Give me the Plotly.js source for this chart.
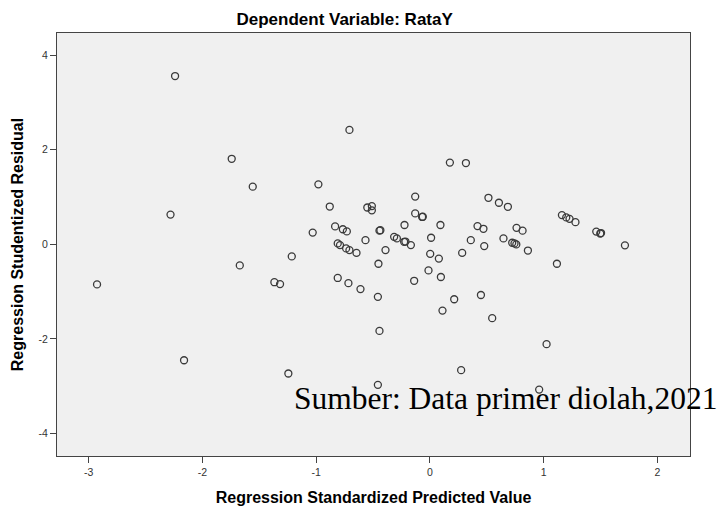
<!DOCTYPE html>
<html>
<head>
<meta charset="utf-8">
<script src="https://cdn.plot.ly/plotly-3.0.1.min.js"></script>
<style>html,body{margin:0;padding:0;background:#fff;}#chart{width:718px;height:506px;}</style>
</head>
<body>
<div id="chart"></div>
<script>
// Regression Standardized Predicted Value (x) and Regression Studentized Residual (y)
const predicted = [
  -2.926, -2.28, -2.24, -2.161, -1.742, -1.671, -1.557, -1.367, -1.317, -1.244,
  -1.214, -1.03, -0.98, -0.88, -0.833, -0.81, -0.79, -0.81, -0.765, -0.73,
  -0.736, -0.707, -0.716, -0.707, -0.645, -0.61, -0.566, -0.55, -0.51, -0.51,
  -0.452, -0.457, -0.443, -0.457, -0.443, -0.435, -0.39, -0.314, -0.29, -0.223,
  -0.226, -0.215, -0.167, -0.129, -0.129, -0.138, -0.068, -0.062, 0.011, 0.003,
  -0.012, 0.079, 0.093, 0.097, 0.111, 0.176, 0.214, 0.275, 0.284, 0.317,
  0.36, 0.419, 0.471, 0.449, 0.478, 0.515, 0.548, 0.607, 0.647, 0.686,
  0.724, 0.744, 0.76, 0.762, 0.815, 0.862, 0.961, 1.026, 1.117, 1.161,
  1.199, 1.228, 1.28, 1.463, 1.498, 1.505, 1.715
];
const residual = [
  -0.846, 0.63, 3.56, -2.45, 1.81, -0.444, 1.22, -0.80, -0.84, -2.73,
  -0.254, 0.25, 1.27, 0.80, 0.38, 0.02, -0.015, -0.71, 0.32, 0.275,
  -0.085, -0.12, -0.82, 2.42, -0.18, -0.945, 0.09, 0.78, 0.81, 0.72,
  -0.41, -1.11, -1.83, -2.97, 0.29, 0.30, -0.12, 0.16, 0.126, 0.41,
  0.055, 0.06, -0.015, 1.01, 0.655, -0.77, 0.58, 0.585, 0.14, -0.2,
  -0.55, -0.30, 0.41, -0.69, -1.40, 1.73, -1.16, -2.66, -0.18, 1.72,
  0.09, 0.387, 0.33, -1.07, -0.036, 0.985, -1.56, 0.88, 0.127, 0.795,
  0.035, 0.02, 0.0, 0.35, 0.29, -0.13, -3.07, -2.11, -0.41, 0.62,
  0.57, 0.54, 0.47, 0.27, 0.23, 0.24, -0.02
];
const xTickVals = [-3, -2, -1, 0, 1, 2];
const xTickText = ['-3', '-2', '-1', '0', '1', '2'];
const yTickVals = [-4, -2, 0, 2, 4];
const yTickText = ['-4', '-2', '0', '2', '4'];

const trace = {
  x: predicted,
  y: residual,
  type: 'scatter',
  mode: 'markers',
  marker: { symbol: 'circle-open', size: 7, color: '#3a3a3a', line: { width: 1.3 } },
  hoverinfo: 'x+y',
  cliponaxis: false
};

const axisCommon = {
  showgrid: false,
  zeroline: false,
  showline: true,
  mirror: true,
  linecolor: '#444',
  linewidth: 1,
  ticks: 'outside',
  ticklen: 6,
  tickwidth: 1,
  tickcolor: '#444',
  tickmode: 'array',
  tickfont: { family: 'Liberation Sans, Arial, sans-serif', size: 10.5, color: '#333' }
};

const layout = {
  width: 718,
  height: 506,
  margin: { l: 57, r: 28, t: 33, b: 50 },
  paper_bgcolor: '#ffffff',
  plot_bgcolor: '#f0f0f0',
  showlegend: false,
  title: {
    text: '<b>Dependent Variable: RataY</b>',
    font: { family: 'Liberation Sans, Arial, sans-serif', size: 17, color: '#000' },
    x: 0.48, xanchor: 'center', xref: 'container',
    y: 0.962, yanchor: 'middle', yref: 'container'
  },
  xaxis: Object.assign({}, axisCommon, {
    range: [-3.278, 2.287],
    tickvals: xTickVals,
    ticktext: xTickText,
    title: {
      text: '<b>Regression Standardized Predicted Value</b>',
      font: { family: 'Liberation Sans, Arial, sans-serif', size: 16, color: '#000' },
      standoff: 17
    }
  }),
  yaxis: Object.assign({}, axisCommon, {
    range: [-4.475, 4.47],
    tickvals: yTickVals,
    ticktext: yTickText,
    title: {
      text: '<b>Regression Studentized Residual</b>',
      font: { family: 'Liberation Sans, Arial, sans-serif', size: 16, color: '#000' },
      standoff: 10
    }
  }),
  annotations: [{
    text: 'Sumber: Data primer diolah,2021',
    xref: 'paper', yref: 'paper',
    x: 0.371, y: 0.135,
    xanchor: 'left', yanchor: 'middle',
    showarrow: false,
    font: { family: 'Liberation Serif, Times New Roman, serif', size: 31.5, color: '#000' }
  }]
};

Plotly.newPlot('chart', [trace], layout, { displayModeBar: false, staticPlot: true });
</script>
</body>
</html>
